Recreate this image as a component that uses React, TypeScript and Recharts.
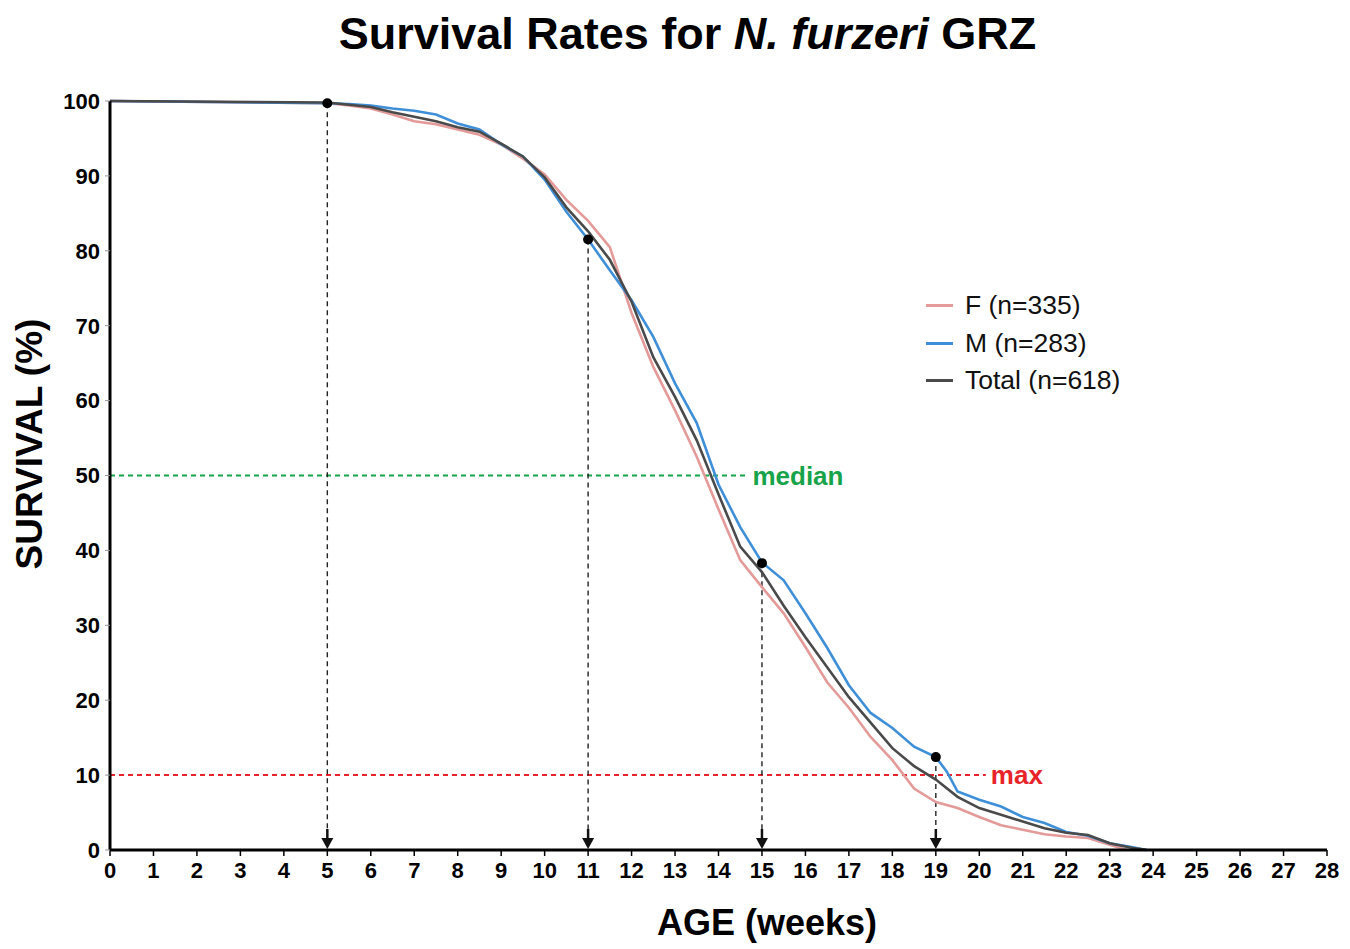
import React from "react";
import {
  ComposedChart,
  Line,
  Scatter,
  XAxis,
  YAxis,
  ReferenceLine,
} from "recharts";

// survival curves (weeks -> % alive)
const femaleWeeks = [0, 5, 5.5, 6, 6.5, 7, 7.5, 8, 8.5, 9, 9.5, 10, 10.5, 11, 11.5, 12, 12.5, 13, 13.5, 14, 14.5, 15, 15.5, 16, 16.5, 17, 17.5, 18, 18.5, 19, 19.5, 20, 20.5, 21, 21.5, 22, 22.5, 23, 23.4];
const femaleSurvival = [100, 99.7, 99.4, 99.0, 98.2, 97.3, 96.9, 96.2, 95.5, 94.2, 92.3, 90.2, 86.8, 84.0, 80.5, 71.7, 64.5, 58.7, 52.5, 45.5, 38.7, 35.1, 31.6, 27.1, 22.4, 19.0, 15.1, 12.0, 8.2, 6.4, 5.6, 4.4, 3.3, 2.7, 2.1, 1.8, 1.6, 0.7, 0];

const maleWeeks = [0, 5, 5.5, 6, 6.5, 7, 7.5, 8, 8.5, 9, 9.5, 10, 10.5, 11, 11.5, 12, 12.5, 13, 13.5, 14, 14.5, 15, 15.5, 16, 16.5, 17, 17.5, 18, 18.5, 19, 19.25, 19.5, 20, 20.5, 21, 21.5, 22, 22.5, 23, 23.5, 23.85];
const maleSurvival = [100, 99.7, 99.6, 99.4, 99.0, 98.7, 98.2, 97.0, 96.2, 94.2, 92.6, 89.5, 85.2, 81.5, 77.4, 73.4, 68.5, 62.3, 57.0, 48.8, 43.1, 38.4, 36.0, 31.6, 27.0, 22.0, 18.3, 16.3, 13.8, 12.4, 10.5, 7.8, 6.7, 5.8, 4.4, 3.6, 2.4, 1.9, 0.9, 0.4, 0];

const totalWeeks = [0, 5, 5.5, 6, 6.5, 7, 7.5, 8, 8.5, 9, 9.5, 10, 10.5, 11, 11.5, 12, 12.5, 13, 13.5, 14, 14.5, 15, 15.5, 16, 16.5, 17, 17.5, 18, 18.5, 19, 19.5, 20, 20.5, 21, 21.5, 22, 22.5, 23, 23.5, 23.85];
const totalSurvival = [100, 99.8, 99.5, 99.2, 98.5, 97.9, 97.3, 96.5, 95.9, 94.3, 92.6, 89.8, 85.8, 82.6, 78.8, 73.2, 65.8, 60.5, 54.7, 47.5, 40.5, 37.1, 32.6, 28.4, 24.4, 20.4, 17.0, 13.6, 11.2, 9.4, 7.1, 5.6, 4.7, 3.8, 2.9, 2.3, 2.0, 0.9, 0.3, 0];

// marked ages and the male survival at each
const markWeeks = [5, 11, 15, 19];
const markSurvival = [99.7, 81.5, 38.3, 12.4];

const xTicks = Array.from({ length: 29 }, (_, i) => i);
const yTicks = [0, 10, 20, 30, 40, 50, 60, 70, 80, 90, 100];

const medianLevel = 50;
const medianEnd = 14.62;
const maxLevel = 10;
const maxEnd = 20.15;

const FONT = '"Liberation Sans", Arial, Helvetica, sans-serif';

const series = [
  { key: "F", name: "F (n=335)", color: "#e39a98", weeks: femaleWeeks, values: femaleSurvival },
  { key: "M", name: "M (n=283)", color: "#3f8fd8", weeks: maleWeeks, values: maleSurvival },
  { key: "T", name: "Total (n=618)", color: "#4a4a4a", weeks: totalWeeks, values: totalSurvival },
];

const toPoints = (xs: number[], ys: number[]) => xs.map((x, i) => ({ x, y: ys[i] }));

const marks = toPoints(markWeeks, markSurvival);
const arrows = markWeeks.map((x) => ({ x, y: 0 }));

function Arrow(props: any) {
  const { cx, cy } = props;
  if (cx == null || cy == null) return null;
  return (
    <g>
      <line x1={cx} y1={cy - 21} x2={cx} y2={cy - 11} stroke="#111" strokeWidth={2.5} />
      <path d={`M${cx - 6},${cy - 12} L${cx + 6},${cy - 12} L${cx},${cy - 1} Z`} fill="#111" />
    </g>
  );
}

function Dot(props: any) {
  const { cx, cy } = props;
  if (cx == null || cy == null) return null;
  return <circle cx={cx} cy={cy} r={5} fill="#000" />;
}

function LegendBox() {
  return (
    <div style={{ position: "absolute", left: 926, top: 287, fontFamily: FONT, fontSize: 26.5, color: "#111" }}>
      {series.map((s) => (
        <div key={s.key} style={{ display: "flex", alignItems: "center", height: 37.5 }}>
          <span style={{ display: "inline-block", width: 27, height: 3, background: s.color, marginRight: 12 }} />
          <span>{s.name}</span>
        </div>
      ))}
    </div>
  );
}

export default function App() {
  return (
    <div style={{ position: "absolute", left: 0, top: 0, width: 1350, height: 949, background: "#fff", fontFamily: FONT }}>
      <div
        style={{
          position: "absolute",
          left: 0,
          top: 8,
          width: 1375,
          textAlign: "center",
          fontSize: 45,
          fontWeight: 700,
          color: "#000",
        }}
      >
        Survival Rates for <span style={{ fontStyle: "italic" }}>N. furzeri</span> GRZ
      </div>
      <div style={{ position: "absolute", left: 30, top: 444, width: 0, height: 0 }}>
        <div
          style={{
            position: "absolute",
            transform: "translate(-50%, -50%) rotate(-90deg)",
            whiteSpace: "nowrap",
            fontSize: 37,
            fontWeight: 700,
            color: "#000",
          }}
        >
          SURVIVAL (%)
        </div>
      </div>
      <div
        style={{
          position: "absolute",
          left: 657,
          top: 902,
          width: 220,
          textAlign: "center",
          whiteSpace: "nowrap",
          fontSize: 36,
          fontWeight: 700,
          color: "#000",
        }}
      >
        AGE (weeks)
      </div>

      <ComposedChart
        width={1350}
        height={949}
        margin={{ top: 101, right: 23, bottom: 69, left: 50 }}
      >
        <XAxis
          type="number"
          dataKey="x"
          domain={[0, 28]}
          ticks={xTicks}
          interval={0}
          allowDataOverflow
          axisLine={{ stroke: "#000", strokeWidth: 3 }}
          tickLine={{ stroke: "#000", strokeWidth: 1.5 }}
          tickSize={6}
          tickMargin={6}
          height={30}
          tick={{ fontSize: 22, fontWeight: 700, fill: "#000", fontFamily: FONT }}
        />
        <YAxis
          type="number"
          dataKey="y"
          domain={[0, 100]}
          ticks={yTicks}
          interval={0}
          width={60}
          axisLine={{ stroke: "#000", strokeWidth: 3 }}
          tickLine={{ stroke: "#999", strokeWidth: 1 }}
          tickSize={5}
          tickMargin={5}
          tick={{ fontSize: 22, fontWeight: 700, fill: "#000", fontFamily: FONT }}
        />

        <ReferenceLine
          segment={[{ x: 0, y: medianLevel }, { x: medianEnd, y: medianLevel }]}
          stroke="#17a349"
          strokeWidth={2}
          strokeDasharray="5 4"
          label={{ value: "median", position: "right", offset: 7, fill: "#17a349", fontSize: 26, fontWeight: 700, fontFamily: FONT }}
        />
        <ReferenceLine
          segment={[{ x: 0, y: maxLevel }, { x: maxEnd, y: maxLevel }]}
          stroke="#e8232a"
          strokeWidth={2}
          strokeDasharray="5 4"
          label={{ value: "max", position: "right", offset: 5, fill: "#e8232a", fontSize: 26, fontWeight: 700, fontFamily: FONT }}
        />
        {marks.map((m) => (
          <ReferenceLine
            key={m.x}
            segment={[{ x: m.x, y: m.y }, { x: m.x, y: 2.5 }]}
            stroke="#222"
            strokeWidth={1.4}
            strokeDasharray="5 4"
          />
        ))}

        {series.map((s) => (
          <Line
            key={s.key}
            data={toPoints(s.weeks, s.values)}
            dataKey="y"
            name={s.name}
            type="linear"
            stroke={s.color}
            strokeWidth={2.6}
            dot={false}
            activeDot={false}
            isAnimationActive={false}
          />
        ))}

        <Scatter data={arrows} dataKey="y" shape={<Arrow />} isAnimationActive={false} legendType="none" />
        <Scatter data={marks} dataKey="y" shape={<Dot />} isAnimationActive={false} legendType="none" />
      </ComposedChart>
      <LegendBox />
    </div>
  );
}
